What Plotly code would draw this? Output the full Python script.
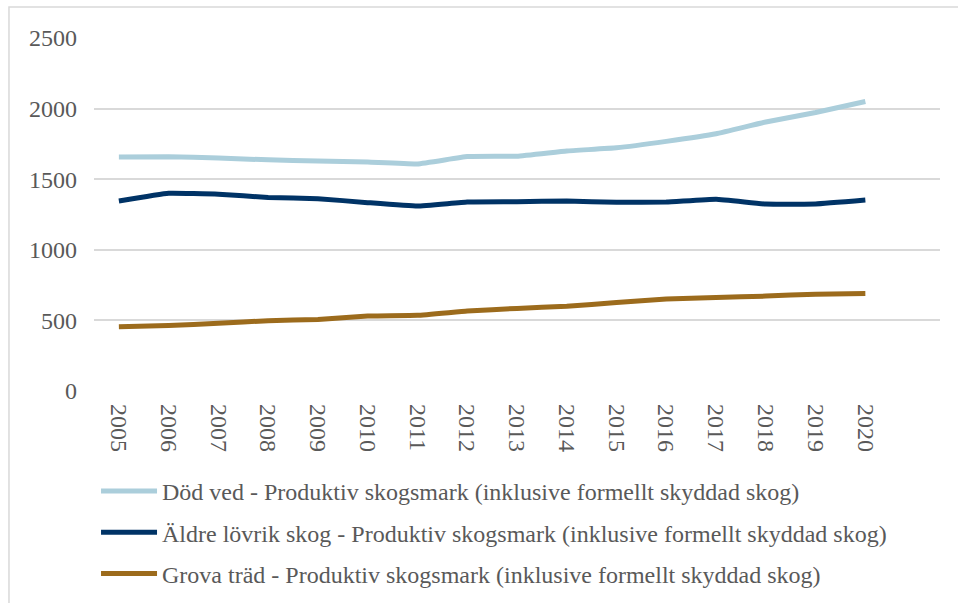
import plotly.graph_objects as go

years = [str(y) for y in range(2005, 2021)]

dod_ved = [1658, 1659, 1650, 1637, 1629, 1621, 1608, 1660, 1663, 1700, 1722, 1768, 1822, 1905, 1972, 2050]
aldre_lovrik = [1345, 1400, 1394, 1370, 1362, 1334, 1310, 1338, 1340, 1346, 1336, 1338, 1358, 1324, 1324, 1352]
grova_trad = [455, 463, 479, 498, 507, 531, 536, 566, 585, 600, 626, 652, 662, 672, 686, 690]

series_names = [
    "Död ved - Produktiv skogsmark (inklusive formellt skyddad skog)",
    "Äldre lövrik skog - Produktiv skogsmark (inklusive formellt skyddad skog)",
    "Grova träd - Produktiv skogsmark (inklusive formellt skyddad skog)",
]
series_values = [dod_ved, aldre_lovrik, grova_trad]
series_colors = ["#ABCEDB", "#003366", "#9C6B1C"]

y_ticks = [0, 500, 1000, 1500, 2000, 2500]

fig = go.Figure()
for i, (name, vals, col) in enumerate(zip(series_names, series_values, series_colors)):
    fig.add_trace(go.Scatter(
        x=years, y=vals, name=name, mode="lines",
        line=dict(color=col, width=5, shape="spline", smoothing=0.3),
        legendgroup=f"g{i}",
    ))

font_family = "Liberation Serif"

# outer frame of the chart area
fig.add_shape(type="rect", xref="paper", yref="paper",
              x0=-0.1005, x1=1.05, y0=-0.7, y1=1.0878,
              line=dict(color="#D9D9D9", width=1.5), fillcolor="rgba(0,0,0,0)",
              layer="below")

fig.update_layout(
    width=958, height=603,
    margin=dict(l=94, r=18, t=38, b=212, autoexpand=False),
    paper_bgcolor="white", plot_bgcolor="white",
    font=dict(family=font_family, size=24, color="#595959"),
    showlegend=True,
    legend=dict(
        x=0.0024, y=-0.221, xanchor="left", yanchor="top",
        orientation="v", tracegroupgap=7,
        font=dict(family=font_family, size=24, color="#595959"),
        itemwidth=56, bgcolor="rgba(0,0,0,0)",
    ),
    xaxis=dict(
        type="category", categoryorder="array", categoryarray=years,
        range=[-0.5, 16.5], tickangle=90, showgrid=False,
        showline=False, zeroline=False, ticks="", automargin=False,
        ticklabelstandoff=12,
        tickfont=dict(family=font_family, size=24, color="#595959"),
    ),
    yaxis=dict(
        range=[0, 2500], tickvals=y_ticks, ticktext=[str(v) for v in y_ticks],
        showgrid=True, gridcolor="#D9D9D9", gridwidth=1.5,
        zeroline=False, showline=False, ticks="", automargin=False,
        ticklabelstandoff=16,
        tickfont=dict(family=font_family, size=24, color="#595959"),
    ),
)

fig.write_html("out.html")
